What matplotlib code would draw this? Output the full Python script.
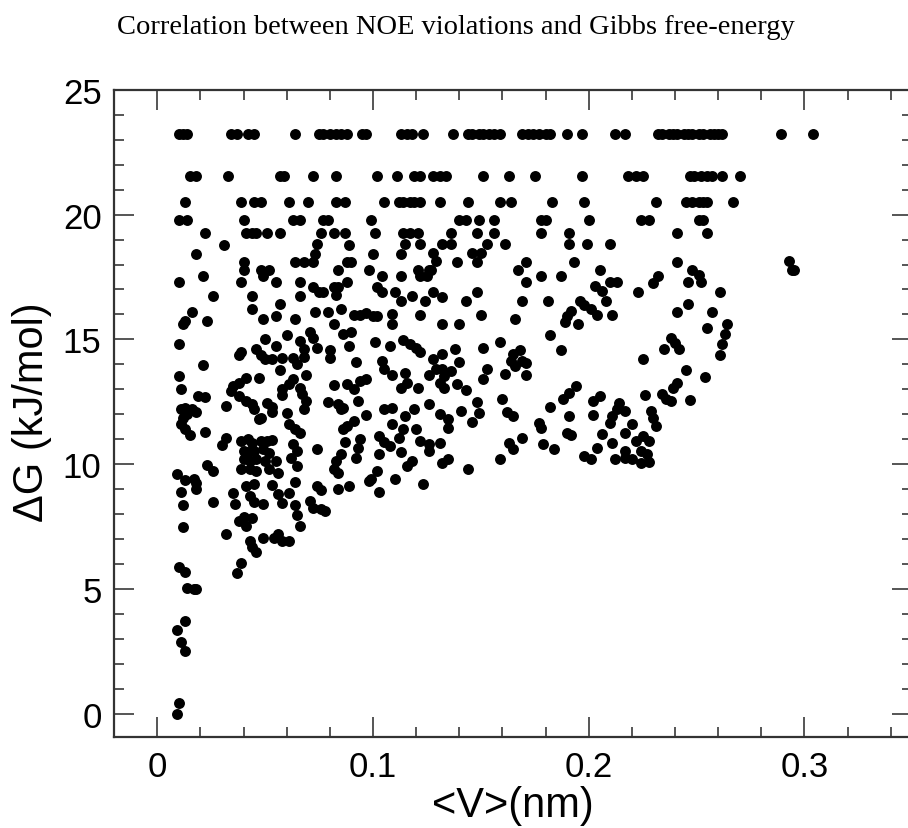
import matplotlib
matplotlib.use("Agg")
import matplotlib.pyplot as plt
from matplotlib.ticker import MultipleLocator

# discrete free-energy levels at the top of the plot (x positions of the dots on each level)
level_23 = [0.010, 0.012, 0.014, 0.034, 0.037, 0.042, 0.045, 0.064, 0.075, 0.077, 0.080, 0.083, 0.085, 0.088,
            0.095, 0.097, 0.113, 0.116, 0.118, 0.123, 0.137, 0.144, 0.146, 0.149, 0.151, 0.154, 0.156, 0.159,
            0.169, 0.172, 0.174, 0.177, 0.180, 0.182, 0.190, 0.197, 0.212, 0.217, 0.232, 0.234, 0.237, 0.239,
            0.241, 0.244, 0.246, 0.248, 0.251, 0.253, 0.256, 0.258, 0.260, 0.262, 0.289, 0.304]
level_21 = [0.015, 0.018, 0.033, 0.057, 0.059, 0.072, 0.083, 0.102, 0.111, 0.119, 0.122, 0.128, 0.131, 0.134,
            0.151, 0.163, 0.175, 0.197, 0.218, 0.222, 0.225, 0.247, 0.249, 0.252, 0.255, 0.257, 0.262, 0.270]
level_20 = [0.013, 0.039, 0.045, 0.048, 0.061, 0.070, 0.083, 0.087, 0.105, 0.112, 0.114, 0.117, 0.119, 0.122,
            0.131, 0.144, 0.159, 0.164, 0.183, 0.198, 0.231, 0.245, 0.248, 0.251, 0.253, 0.255, 0.267]
level_19a = [0.010, 0.014, 0.040, 0.063, 0.066, 0.077, 0.079, 0.099, 0.140, 0.143, 0.149, 0.156, 0.178, 0.180,
             0.200, 0.224, 0.228, 0.251, 0.253]
level_19b = [0.022, 0.041, 0.044, 0.046, 0.051, 0.057, 0.076, 0.082, 0.087, 0.101, 0.114, 0.117, 0.121, 0.136,
             0.148, 0.156, 0.178, 0.191, 0.241, 0.255]
level_values = [23.24, 21.53, 20.50, 19.80, 19.27]

# scattered points, upper band
upper_x = [0.031, 0.074, 0.089, 0.073, 0.018, 0.100, 0.072, 0.068, 0.064, 0.088, 0.090, 0.040, 0.040, 0.048,
           0.052, 0.084, 0.098, 0.115, 0.122, 0.132, 0.136, 0.153, 0.161, 0.191, 0.199, 0.210, 0.113, 0.128,
           0.129, 0.127, 0.146, 0.148, 0.150, 0.139, 0.121, 0.125, 0.126, 0.171, 0.167, 0.193, 0.205, 0.241,
           0.248, 0.251, 0.293, 0.294, 0.295]
upper_y = [18.80, 18.84, 18.80, 18.43, 18.43, 18.43, 18.09, 18.09, 18.09, 18.09, 18.09, 18.09, 17.80, 17.80,
           17.80, 17.80, 17.80, 18.83, 18.83, 18.83, 18.83, 18.83, 18.83, 18.83, 18.83, 18.83, 18.43, 18.47,
           18.13, 17.80, 18.47, 18.09, 18.47, 18.09, 17.80, 17.53, 17.80, 18.09, 17.80, 18.09, 17.80, 18.09,
           17.80, 17.60, 18.13, 17.80, 17.80]

# left cloud (V < 0.106)
left_x = [0.010, 0.021, 0.039, 0.055, 0.049, 0.066, 0.066, 0.044, 0.026, 0.072, 0.075, 0.077, 0.082, 0.084,
          0.088, 0.083, 0.104, 0.102, 0.104, 0.044, 0.057, 0.049, 0.055, 0.064, 0.016, 0.013, 0.012, 0.023,
          0.073, 0.079, 0.085, 0.091, 0.094, 0.097, 0.100, 0.102, 0.082, 0.071, 0.072, 0.060, 0.086, 0.090,
          0.010, 0.050, 0.066, 0.068, 0.055, 0.074, 0.089, 0.101, 0.039, 0.038, 0.046, 0.048, 0.050, 0.053,
          0.058, 0.063, 0.065, 0.068, 0.080, 0.080, 0.092, 0.104, 0.105, 0.021, 0.057, 0.010, 0.041, 0.038,
          0.035, 0.034, 0.038, 0.041, 0.044, 0.045, 0.048, 0.047, 0.063, 0.061, 0.058, 0.058, 0.069, 0.066,
          0.067, 0.069, 0.068, 0.082, 0.088, 0.091, 0.094, 0.097, 0.011, 0.019, 0.022, 0.032, 0.051, 0.053,
          0.053, 0.060, 0.011, 0.013, 0.016, 0.018, 0.014, 0.012, 0.011, 0.013, 0.015, 0.022, 0.079, 0.084,
          0.086, 0.085, 0.093, 0.097, 0.047, 0.061, 0.064, 0.066, 0.091, 0.088, 0.086, 0.105, 0.032, 0.030,
          0.039, 0.042, 0.044, 0.048, 0.051, 0.053, 0.040, 0.042, 0.045, 0.049, 0.052, 0.040, 0.043, 0.046,
          0.050, 0.055, 0.039, 0.043, 0.046, 0.052, 0.056, 0.063, 0.065, 0.062, 0.065, 0.074, 0.085, 0.083,
          0.082, 0.084, 0.087, 0.094, 0.093, 0.092, 0.103, 0.105, 0.103, 0.102, 0.099, 0.009, 0.023, 0.026,
          0.013, 0.017]
left_y = [17.29, 17.56, 17.29, 17.29, 17.53, 17.29, 16.73, 16.73, 16.73, 17.11, 16.89, 16.89, 17.11, 17.11,
          17.29, 16.76, 17.56, 17.11, 16.89, 16.23, 16.40, 15.83, 15.93, 15.83, 16.09, 15.73, 15.60, 15.73,
          16.09, 16.09, 16.23, 15.96, 15.96, 16.07, 15.93, 15.93, 15.60, 15.29, 15.07, 15.16, 15.20, 15.29,
          14.80, 15.00, 14.93, 14.60, 14.73, 14.67, 14.73, 14.89, 14.49, 14.36, 14.60, 14.36, 14.23, 14.20,
          14.27, 14.27, 14.00, 14.31, 14.57, 14.27, 14.09, 14.13, 13.83, 13.96, 13.77, 13.53, 13.47, 13.27,
          13.13, 12.93, 12.73, 12.53, 12.40, 12.20, 11.87, 13.47, 13.40, 13.20, 13.00, 12.76, 13.56, 13.07,
          12.80, 12.53, 12.23, 13.16, 13.20, 13.00, 13.33, 13.43, 13.00, 12.73, 12.71, 12.33, 12.47, 12.31,
          12.09, 12.07, 12.20, 12.27, 12.20, 12.09, 12.00, 11.87, 11.60, 11.40, 11.16, 11.29, 12.49, 12.40,
          12.27, 12.20, 12.53, 11.96, 11.83, 11.60, 11.40, 11.24, 11.73, 11.53, 11.40, 12.20, 11.07, 10.76,
          10.93, 11.00, 10.87, 10.93, 10.93, 10.97, 10.53, 10.49, 10.53, 10.60, 10.44, 10.20, 10.13, 10.20,
          10.13, 10.13, 9.83, 9.80, 9.73, 9.80, 9.64, 10.80, 10.53, 10.27, 9.93, 10.63, 10.40, 10.13,
          9.80, 9.64, 10.89, 11.00, 10.67, 10.27, 11.13, 10.89, 10.40, 9.73, 9.40, 9.60, 9.96, 9.73,
          9.37, 9.43]

# lower-left tail
low_x = [0.018, 0.018, 0.011, 0.012, 0.012, 0.026, 0.035, 0.036, 0.041, 0.045, 0.043, 0.045, 0.049, 0.053,
         0.056, 0.058, 0.061, 0.064, 0.064, 0.065, 0.066, 0.071, 0.072, 0.076, 0.078, 0.074, 0.076, 0.084,
         0.089, 0.098, 0.103, 0.038, 0.040, 0.044, 0.041, 0.032, 0.043, 0.044, 0.046, 0.049, 0.054, 0.056,
         0.058, 0.061, 0.039, 0.037, 0.010, 0.013, 0.014, 0.017, 0.018, 0.013, 0.009, 0.011, 0.013, 0.010,
         0.009]
low_y = [9.27, 9.00, 8.89, 8.36, 7.51, 8.49, 8.87, 8.40, 9.13, 9.20, 8.73, 8.49, 8.40, 9.16,
         8.80, 8.47, 8.87, 9.29, 8.36, 7.96, 7.53, 8.53, 8.27, 8.20, 8.13, 9.13, 8.97, 9.03,
         9.13, 9.33, 8.89, 7.73, 7.91, 7.87, 7.53, 7.20, 6.93, 6.67, 6.47, 7.07, 7.07, 7.20,
         6.93, 6.93, 6.04, 5.64, 5.87, 5.69, 5.03, 5.00, 5.00, 3.73, 3.37, 2.89, 2.53, 0.44,
         0.00]

# middle cloud (0.106 < V < 0.237)
mid_x = [0.113, 0.122, 0.110, 0.113, 0.118, 0.124, 0.128, 0.132, 0.143, 0.148, 0.109, 0.109, 0.122, 0.132,
         0.140, 0.150, 0.166, 0.169, 0.171, 0.178, 0.187, 0.181, 0.203, 0.206, 0.208, 0.210, 0.213, 0.196,
         0.198, 0.201, 0.204, 0.192, 0.190, 0.189, 0.195, 0.211, 0.223, 0.230, 0.232, 0.182, 0.187, 0.108,
         0.114, 0.117, 0.120, 0.122, 0.128, 0.132, 0.138, 0.140, 0.151, 0.159, 0.165, 0.168, 0.169, 0.171,
         0.164, 0.166, 0.171, 0.109, 0.115, 0.116, 0.113, 0.121, 0.126, 0.129, 0.132, 0.133, 0.131, 0.133,
         0.136, 0.139, 0.143, 0.153, 0.151, 0.161, 0.160, 0.162, 0.165, 0.148, 0.149, 0.146, 0.141, 0.126,
         0.131, 0.135, 0.135, 0.109, 0.115, 0.109, 0.114, 0.119, 0.120, 0.122, 0.126, 0.126, 0.131, 0.112,
         0.108, 0.113, 0.118, 0.116, 0.110, 0.123, 0.132, 0.135, 0.144, 0.159, 0.163, 0.165, 0.169, 0.177,
         0.178, 0.179, 0.184, 0.182, 0.188, 0.191, 0.194, 0.191, 0.190, 0.192, 0.198, 0.201, 0.202, 0.205,
         0.202, 0.206, 0.204, 0.211, 0.212, 0.210, 0.211, 0.213, 0.214, 0.217, 0.217, 0.220, 0.217, 0.217,
         0.222, 0.225, 0.228, 0.224, 0.227, 0.224, 0.228, 0.220, 0.226, 0.229, 0.230, 0.231, 0.234, 0.236,
         0.225, 0.235]
mid_y = [17.56, 17.56, 16.89, 16.53, 16.73, 16.53, 16.89, 16.71, 16.53, 16.89, 16.00, 15.60, 15.96, 15.60,
         15.60, 15.96, 15.83, 16.53, 17.29, 17.56, 17.56, 16.53, 17.13, 16.93, 16.53, 17.29, 17.29, 16.53,
         16.36, 16.20, 15.96, 16.13, 15.93, 15.69, 15.60, 15.96, 16.89, 17.27, 17.53, 15.16, 14.57, 14.73,
         14.97, 14.80, 14.67, 14.49, 14.20, 14.40, 14.60, 14.09, 14.67, 14.89, 14.40, 14.57, 14.13, 14.04,
         14.13, 13.93, 13.56, 13.56, 13.67, 13.27, 13.07, 13.07, 13.56, 13.80, 13.80, 13.53, 13.27, 13.07,
         13.73, 13.20, 12.97, 13.80, 13.40, 13.60, 12.60, 12.09, 11.93, 12.49, 12.07, 11.69, 12.13, 12.40,
         12.00, 11.80, 11.47, 12.27, 11.93, 11.60, 11.43, 12.20, 11.43, 10.93, 10.80, 10.53, 10.87, 11.07,
         10.73, 10.49, 10.13, 9.93, 9.43, 9.20, 10.07, 10.20, 9.80, 10.23, 10.87, 10.60, 11.07, 11.67,
         11.47, 10.80, 10.60, 12.31, 12.60, 12.87, 13.13, 11.93, 11.27, 11.16, 10.33, 10.23, 12.53, 12.73,
         11.96, 11.20, 10.67, 10.87, 10.20, 11.67, 11.93, 12.20, 12.47, 12.13, 11.27, 11.60, 10.53, 10.27,
         10.93, 11.13, 10.93, 10.53, 10.40, 10.07, 10.09, 10.20, 12.76, 12.13, 11.87, 11.53, 12.80, 12.63,
         14.23, 14.60]

# right edge of the cloud (V > 0.237)
right_x = [0.246, 0.252, 0.261, 0.246, 0.241, 0.257, 0.255, 0.264, 0.263, 0.262, 0.261, 0.238, 0.240, 0.242,
           0.245, 0.254, 0.241, 0.239, 0.238, 0.247]
right_y = [17.29, 17.29, 16.89, 16.40, 16.09, 16.09, 15.47, 15.60, 15.20, 14.80, 14.36, 15.07, 14.87, 14.60,
           13.77, 13.51, 13.27, 13.07, 12.53, 12.57]

plt.rcParams['font.family'] = ['Liberation Sans', 'DejaVu Sans']

fig = plt.figure(figsize=(9.08, 8.29), dpi=100)
# right spine sits just past the image edge, like the reference crop
ax = fig.add_axes([0.1256, 0.1094, 0.8792, 0.7812])

dot = dict(s=62, color='black', linewidths=0, zorder=3)
for lvl, xs in zip(level_values, [level_23, level_21, level_20, level_19a, level_19b]):
    ax.scatter(xs, [lvl] * len(xs), **dot)
for xs, ys in [(upper_x, upper_y), (left_x, left_y), (low_x, low_y), (mid_x, mid_y), (right_x, right_y)]:
    ax.scatter(xs, ys, **dot)

ax.set_xlim(-0.02, 0.35)
ax.set_ylim(-0.93, 25)

ax.xaxis.set_major_locator(MultipleLocator(0.1))
ax.xaxis.set_minor_locator(MultipleLocator(0.02))
ax.yaxis.set_major_locator(MultipleLocator(5))
ax.yaxis.set_minor_locator(MultipleLocator(1))
ax.set_xticks([0, 0.1, 0.2, 0.3])
ax.set_xticklabels(['0', '0.1', '0.2', '0.3'])

ax.tick_params(which='both', direction='in', top=True, right=True, color='#555555', width=1.4,
               labelsize=25, labelcolor='black')
ax.tick_params(which='major', length=14.4, pad=9)
ax.tick_params(which='minor', length=7.2)
for sp in ax.spines.values():
    sp.set_linewidth(1.6)
    sp.set_color('#333333')

# axis labels, centred on the plot frame
fig.text(513 / 908, 1 - 806 / 829, '<V>(nm)', fontsize=30, ha='center', va='center')
fig.text(32 / 908, 1 - 412 / 829, '\u0394G (kJ/mol)', fontsize=30, rotation=90, ha='center', va='center')

fig.text(456 / 908, 1 - 27 / 829, 'Correlation between NOE violations and Gibbs free-energy',
         fontsize=20.5, family='Liberation Serif', ha='center', va='center')

fig.savefig('out.png', dpi=100)
